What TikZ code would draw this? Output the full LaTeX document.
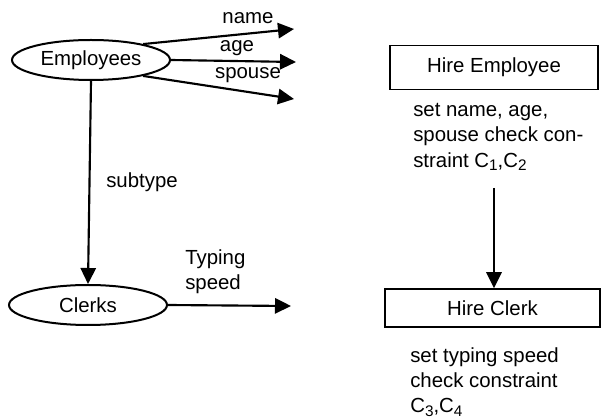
\documentclass[tikz,border=0pt]{standalone}
\usepackage{fontspec}
\setmainfont{Liberation Sans}
\usetikzlibrary{shapes.geometric,arrows.meta}
\newcommand{\mysub}[1]{\raisebox{-0.35ex}{\fontsize{11.5}{12}\selectfont #1}}
\begin{document}
\begin{tikzpicture}[x=0.75pt,y=-0.75pt,
  every node/.style={font=\fontsize{15.3}{19}\selectfont},
  entity/.style={draw,ellipse,line width=1.5pt,inner sep=0pt,minimum width=118.5pt,minimum height=30pt},
  opbox/.style={draw,rectangle,line width=1.3pt,inner sep=0pt},
  lbl/.style={inner sep=0pt},
  desc/.style={inner sep=0pt,align=left,anchor=west},
  conn/.style={line width=1.6pt,-{Triangle[length=12pt,width=11.5pt]}}]
\useasboundingbox (0,0) rectangle (601,420);
% left: schema
\node[entity] (emp) at (91,60) {Employees};
\node[entity] (clk) at (88,305) {Clerks};
\coordinate (tn) at (294,29);
\coordinate (ta) at (296,62);
\coordinate (ts) at (294,99);
\coordinate (tt) at (291,306);
\draw[conn] (emp.17) -- (tn);
\draw[conn] (emp.east) -- (ta);
\draw[conn] (emp.-17) -- (ts);
\node[lbl] (lname) at (248,18) {name};
\node[lbl] (lage) at (237,48) {age};
\node[lbl] (lspouse) at (248,75) {spouse};
\draw[conn] (emp.south) -- (clk.north);
\node[lbl,anchor=west] (lsub) at (106,182) {subtype};
\draw[conn] (clk.east) -- (tt);
\node[desc] (ltyp) at (185,272) {Typing\\speed};
% right: operations
\node[opbox,minimum width=156pt,minimum height=33pt] (he) at (494,67.5) {Hire Employee};
\node[desc] (d1) at (413,137) {set name, age,\\spouse check con-\\straint C\mysub{1},C\mysub{2}};
\node[opbox,minimum width=161pt,minimum height=28.5pt] (hc) at (492.5,308) {Hire Clerk};
\node[desc] (d2) at (410,382) {set typing speed\\check constraint\\C\mysub{3},C\mysub{4}};
\coordinate (vt) at (494,188);
\draw[conn] (vt) -- (vt |- hc.north);
\end{tikzpicture}
\end{document}
